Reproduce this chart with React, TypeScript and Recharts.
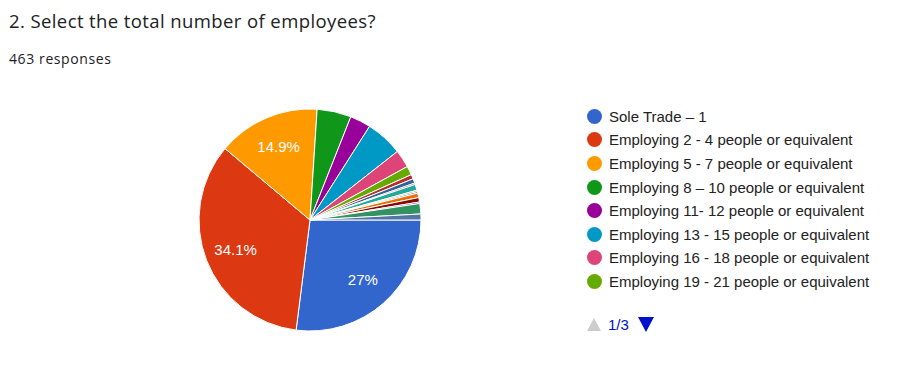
import React from "react";
import { Cell, Pie, PieChart } from "recharts";

// responses per answer, in the order Google Forms draws them (clockwise from 3 o'clock)
const categories = [
  "Sole Trade – 1",
  "Employing 2 - 4 people or equivalent",
  "Employing 5 - 7 people or equivalent",
  "Employing 8 – 10 people or equivalent",
  "Employing 11- 12 people or equivalent",
  "Employing 13 - 15 people or equivalent",
  "Employing 16 - 18 people or equivalent",
  "Employing 19 - 21 people or equivalent",
  "Employing 22 - 24 people or equivalent",
  "Employing 25 - 27 people or equivalent",
  "Employing 28 - 30 people or equivalent",
  "Employing 31 - 35 people or equivalent",
  "Employing 36 - 40 people or equivalent",
  "Employing 41 - 45 people or equivalent",
  "Employing 46 - 50 people or equivalent",
  "Employing 51 - 60 people or equivalent",
  "Employing 61 - 70 people or equivalent",
  "Employing 71 - 100 people or equivalent",
  "Employing 100+ people or equivalent",
];
const responses = [125, 158, 69, 23, 14, 25, 12, 6, 3, 3, 1, 4, 1, 1, 3, 3, 1, 7, 4];
const colors = [
  "#3366cc", "#dc3912", "#ff9900", "#109618", "#990099", "#0099c6", "#dd4477",
  "#66aa00", "#b82e2e", "#316395", "#994499", "#22aa99", "#aaaa11", "#6633cc",
  "#e67300", "#8b0707", "#651067", "#329262", "#5574a6",
];
const totalResponses = 463;
const legendPage = "1/3";

const data = categories.map((name, i) => ({ name, value: responses[i] }));

const RADIAN = Math.PI / 180;

function formatPct(p: number) {
  const s = (p * 100).toFixed(1);
  return (s.endsWith(".0") ? s.slice(0, -2) : s) + "%";
}

const renderLabel = (props: any) => {
  const { cx, cy, midAngle, outerRadius, percent } = props;
  if (percent < 0.1) return null;
  const r = outerRadius * 0.72;
  const x = cx + r * Math.cos(-midAngle * RADIAN);
  const y = cy + r * Math.sin(-midAngle * RADIAN);
  return (
    <text
      x={x}
      y={y}
      fill="#ffffff"
      textAnchor="middle"
      dominantBaseline="central"
      fontFamily="Arial, 'Liberation Sans', sans-serif"
      fontSize={15}
    >
      {formatPct(percent)}
    </text>
  );
};

export default function App() {
  return (
    <div
      style={{
        position: "absolute",
        left: 0,
        top: 0,
        width: 902,
        height: 366,
        background: "#fff",
        overflow: "hidden",
      }}
    >
      <div
        style={{
          position: "absolute",
          left: 9,
          top: 8,
          fontFamily: "'Open Sans', Roboto, Arial, sans-serif",
          fontSize: 18.5,
          letterSpacing: 0.4,
          color: "#202124",
          whiteSpace: "nowrap",
        }}
      >
        2. Select the total number of employees?
      </div>
      <div
        style={{
          position: "absolute",
          left: 9,
          top: 49,
          fontFamily: "'Open Sans', Roboto, Arial, sans-serif",
          fontSize: 14,
          letterSpacing: 0.6,
          color: "#202124",
        }}
      >
        {totalResponses} responses
      </div>

      <div style={{ position: "absolute", left: 0, top: 0 }}>
        <PieChart width={440} height={366} margin={{ top: 0, right: 0, bottom: 0, left: 0 }}>
          <Pie
            data={data}
            dataKey="value"
            nameKey="name"
            cx={310}
            cy={220}
            outerRadius={111}
            startAngle={0}
            endAngle={-360}
            stroke="#ffffff"
            strokeWidth={1}
            label={renderLabel}
            labelLine={false}
            isAnimationActive={false}
          >
            {data.map((entry, i) => (
              <Cell key={`cell-${i}`} fill={colors[i]} />
            ))}
          </Pie>
        </PieChart>
      </div>

      <div
        style={{
          position: "absolute",
          left: 587,
          top: 104.5,
          fontFamily: "Arial, 'Liberation Sans', sans-serif",
          fontSize: 15,
          color: "#222222",
        }}
      >
        {categories.slice(0, 8).map((name, i) => (
          <div
            key={name}
            style={{ display: "flex", alignItems: "center", height: 23.6, whiteSpace: "nowrap" }}
          >
            <span
              style={{
                display: "inline-block",
                width: 15,
                height: 15,
                borderRadius: 7.5,
                background: colors[i],
                marginRight: 7,
                flexShrink: 0,
              }}
            />
            {name}
          </div>
        ))}
        <div style={{ display: "flex", alignItems: "center", marginTop: 21, height: 20 }}>
          <svg width={14} height={13} style={{ marginRight: 7 }}>
            <polygon points="7,0 14,13 0,13" fill="#cccccc" />
          </svg>
          <span style={{ color: "#0011cc" }}>{legendPage}</span>
          <svg width={16} height={15} style={{ marginLeft: 9 }}>
            <polygon points="0,0 16,0 8,15" fill="#0011cc" />
          </svg>
        </div>
      </div>
    </div>
  );
}
